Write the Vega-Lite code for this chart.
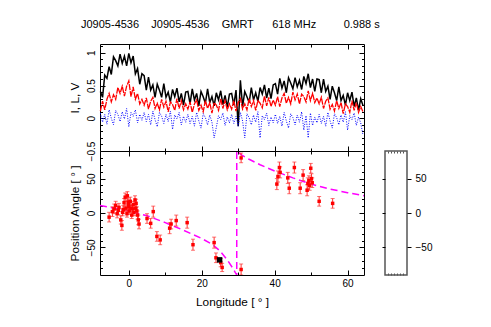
{
  "$schema": "https://vega.github.io/schema/vega-lite/v6.json",
  "padding": {"left": 68, "top": 18, "right": 5, "bottom": 5},
  "background": "white",
  "config": {
    "font": "Liberation Sans",
    "view": {"stroke": "black", "strokeWidth": 1},
    "axis": {"grid": false, "domain": false, "labelFlush": false, "labelBound": false, "labelOverlap": false, "tickColor": "black", "tickWidth": 1, "labelColor": "black", "labelFontSize": 10, "titleColor": "black", "titleFontSize": 11.8, "titleFontWeight": "normal", "labelFont": "Liberation Sans", "titleFont": "Liberation Sans"}
  },
  "datasets": {
    "prof": [
      {"x": -7.8, "I": 0.41, "L": 0.11, "V": 0.08},
      {"x": -7.2, "I": 0.32, "L": 0.26, "V": -0.06},
      {"x": -6.6, "I": 0.66, "L": 0.13, "V": 0.06},
      {"x": -6.0, "I": 0.61, "L": 0.29, "V": -0.09},
      {"x": -5.4, "I": 0.79, "L": 0.38, "V": 0.13},
      {"x": -4.8, "I": 0.67, "L": 0.25, "V": 0.0},
      {"x": -4.2, "I": 0.94, "L": 0.36, "V": -0.10},
      {"x": -3.6, "I": 0.88, "L": 0.29, "V": 0.12},
      {"x": -3.0, "I": 0.80, "L": 0.47, "V": 0.06},
      {"x": -2.4, "I": 0.98, "L": 0.38, "V": -0.05},
      {"x": -1.8, "I": 0.84, "L": 0.49, "V": 0.10},
      {"x": -1.2, "I": 0.95, "L": 0.34, "V": -0.01},
      {"x": -0.6, "I": 0.80, "L": 0.49, "V": 0.15},
      {"x": 0.0, "I": 0.99, "L": 0.57, "V": -0.13},
      {"x": 0.6, "I": 0.85, "L": 0.33, "V": 0.09},
      {"x": 1.2, "I": 0.95, "L": 0.48, "V": 0.03},
      {"x": 1.8, "I": 0.68, "L": 0.29, "V": 0.13},
      {"x": 2.4, "I": 0.76, "L": 0.38, "V": -0.07},
      {"x": 3.0, "I": 0.52, "L": 0.22, "V": 0.06},
      {"x": 3.6, "I": 0.68, "L": 0.29, "V": -0.03},
      {"x": 4.2, "I": 0.65, "L": 0.20, "V": 0.09},
      {"x": 4.8, "I": 0.43, "L": 0.31, "V": -0.05},
      {"x": 5.4, "I": 0.63, "L": 0.14, "V": 0.06},
      {"x": 6.0, "I": 0.43, "L": 0.26, "V": -0.10},
      {"x": 6.6, "I": 0.51, "L": 0.32, "V": 0.11},
      {"x": 7.2, "I": 0.32, "L": 0.15, "V": -0.02},
      {"x": 7.8, "I": 0.52, "L": 0.23, "V": -0.13},
      {"x": 8.4, "I": 0.43, "L": 0.13, "V": 0.09},
      {"x": 9.0, "I": 0.32, "L": 0.29, "V": 0.03},
      {"x": 9.6, "I": 0.53, "L": 0.17, "V": -0.08},
      {"x": 10.2, "I": 0.32, "L": 0.26, "V": 0.06},
      {"x": 10.8, "I": 0.40, "L": 0.10, "V": -0.05},
      {"x": 11.4, "I": 0.25, "L": 0.25, "V": 0.11},
      {"x": 12.0, "I": 0.44, "L": 0.21, "V": -0.17},
      {"x": 12.6, "I": 0.33, "L": 0.12, "V": 0.05},
      {"x": 13.2, "I": 0.46, "L": 0.30, "V": -0.01},
      {"x": 13.8, "I": 0.25, "L": 0.15, "V": 0.09},
      {"x": 14.4, "I": 0.38, "L": 0.27, "V": -0.10},
      {"x": 15.0, "I": 0.20, "L": 0.13, "V": 0.03},
      {"x": 15.6, "I": 0.40, "L": 0.22, "V": -0.06},
      {"x": 16.2, "I": 0.41, "L": 0.14, "V": 0.06},
      {"x": 16.8, "I": 0.22, "L": 0.25, "V": -0.08},
      {"x": 17.4, "I": 0.45, "L": 0.09, "V": 0.03},
      {"x": 18.0, "I": 0.28, "L": 0.22, "V": -0.12},
      {"x": 18.6, "I": 0.38, "L": 0.28, "V": 0.09},
      {"x": 19.2, "I": 0.19, "L": 0.12, "V": -0.04},
      {"x": 19.8, "I": 0.41, "L": 0.20, "V": -0.15},
      {"x": 20.4, "I": 0.33, "L": 0.10, "V": 0.07},
      {"x": 21.0, "I": 0.23, "L": 0.27, "V": 0.01},
      {"x": 21.6, "I": 0.45, "L": 0.15, "V": -0.10},
      {"x": 22.2, "I": 0.24, "L": 0.24, "V": 0.05},
      {"x": 22.8, "I": 0.33, "L": 0.08, "V": -0.06},
      {"x": 23.4, "I": 0.19, "L": 0.24, "V": -0.30},
      {"x": 24.0, "I": 0.39, "L": 0.20, "V": -0.14},
      {"x": 24.6, "I": 0.28, "L": 0.12, "V": 0.04},
      {"x": 25.2, "I": 0.42, "L": 0.30, "V": -0.02},
      {"x": 25.8, "I": 0.21, "L": 0.15, "V": 0.08},
      {"x": 26.4, "I": 0.35, "L": 0.27, "V": -0.11},
      {"x": 27.0, "I": 0.17, "L": 0.13, "V": 0.02},
      {"x": 27.6, "I": 0.37, "L": 0.22, "V": -0.07},
      {"x": 28.2, "I": 0.38, "L": 0.14, "V": 0.06},
      {"x": 28.8, "I": 0.20, "L": 0.27, "V": -0.08},
      {"x": 29.4, "I": 0.43, "L": 0.11, "V": 0.03},
      {"x": 30.0, "I": -0.12, "L": 0.24, "V": -0.12},
      {"x": 30.6, "I": 0.58, "L": 0.30, "V": 0.09},
      {"x": 31.2, "I": 0.18, "L": 0.14, "V": -0.04},
      {"x": 31.8, "I": 0.41, "L": 0.22, "V": -0.30},
      {"x": 32.4, "I": 0.33, "L": 0.13, "V": 0.07},
      {"x": 33.0, "I": 0.24, "L": 0.30, "V": 0.01},
      {"x": 33.6, "I": 0.47, "L": 0.18, "V": -0.10},
      {"x": 34.2, "I": 0.28, "L": 0.27, "V": 0.05},
      {"x": 34.8, "I": 0.39, "L": 0.12, "V": -0.06},
      {"x": 35.4, "I": 0.26, "L": 0.27, "V": 0.10},
      {"x": 36.0, "I": 0.47, "L": 0.23, "V": -0.30},
      {"x": 36.6, "I": 0.37, "L": 0.16, "V": 0.04},
      {"x": 37.2, "I": 0.51, "L": 0.34, "V": -0.02},
      {"x": 37.8, "I": 0.31, "L": 0.19, "V": 0.08},
      {"x": 38.4, "I": 0.46, "L": 0.32, "V": -0.11},
      {"x": 39.0, "I": 0.30, "L": 0.18, "V": 0.02},
      {"x": 39.6, "I": 0.51, "L": 0.28, "V": -0.07},
      {"x": 40.2, "I": 0.53, "L": 0.20, "V": 0.06},
      {"x": 40.8, "I": 0.37, "L": 0.33, "V": -0.08},
      {"x": 41.4, "I": 0.61, "L": 0.18, "V": 0.03},
      {"x": 42.0, "I": 0.46, "L": 0.31, "V": -0.12},
      {"x": 42.6, "I": 0.57, "L": 0.38, "V": 0.09},
      {"x": 43.2, "I": 0.39, "L": 0.23, "V": -0.04},
      {"x": 43.8, "I": 0.62, "L": 0.32, "V": -0.15},
      {"x": 44.4, "I": 0.54, "L": 0.22, "V": 0.07},
      {"x": 45.0, "I": 0.45, "L": 0.40, "V": 0.01},
      {"x": 45.6, "I": 0.62, "L": 0.28, "V": -0.10},
      {"x": 46.2, "I": 0.48, "L": 0.37, "V": 0.05},
      {"x": 46.8, "I": 0.58, "L": 0.22, "V": -0.06},
      {"x": 47.4, "I": 0.44, "L": 0.37, "V": 0.10},
      {"x": 48.0, "I": 0.64, "L": 0.33, "V": -0.18},
      {"x": 48.6, "I": 0.53, "L": 0.25, "V": 0.04},
      {"x": 49.2, "I": 0.68, "L": 0.42, "V": -0.30},
      {"x": 49.8, "I": 0.47, "L": 0.27, "V": 0.08},
      {"x": 50.4, "I": 0.60, "L": 0.38, "V": -0.11},
      {"x": 51.0, "I": 0.41, "L": 0.24, "V": 0.02},
      {"x": 51.6, "I": 0.60, "L": 0.31, "V": -0.07},
      {"x": 52.2, "I": 0.59, "L": 0.22, "V": 0.06},
      {"x": 52.8, "I": 0.39, "L": 0.32, "V": -0.08},
      {"x": 53.4, "I": 0.60, "L": 0.15, "V": 0.03},
      {"x": 54.0, "I": 0.41, "L": 0.26, "V": -0.12},
      {"x": 54.6, "I": 0.49, "L": 0.31, "V": 0.09},
      {"x": 55.2, "I": 0.29, "L": 0.14, "V": -0.04},
      {"x": 55.8, "I": 0.49, "L": 0.21, "V": -0.15},
      {"x": 56.4, "I": 0.39, "L": 0.11, "V": 0.07},
      {"x": 57.0, "I": 0.27, "L": 0.27, "V": 0.01},
      {"x": 57.6, "I": 0.48, "L": 0.15, "V": -0.10},
      {"x": 58.2, "I": 0.27, "L": 0.24, "V": 0.05},
      {"x": 58.8, "I": 0.35, "L": 0.07, "V": -0.06},
      {"x": 59.4, "I": 0.20, "L": 0.22, "V": 0.10},
      {"x": 60.0, "I": 0.39, "L": 0.18, "V": -0.18},
      {"x": 60.6, "I": 0.27, "L": 0.09, "V": 0.04},
      {"x": 61.2, "I": 0.40, "L": 0.27, "V": -0.02},
      {"x": 61.8, "I": 0.18, "L": 0.12, "V": 0.08},
      {"x": 62.4, "I": 0.31, "L": 0.24, "V": -0.11},
      {"x": 63.0, "I": 0.12, "L": 0.09, "V": 0.02},
      {"x": 63.6, "I": 0.30, "L": 0.18, "V": -0.07},
      {"x": 64.2, "I": 0.20, "L": 0.10, "V": -0.25}
    ],
    "pa": [
      {"lon": -5.4, "pa": -6, "lo": -13, "hi": 1},
      {"lon": -4.5, "pa": 2, "lo": -5, "hi": 9},
      {"lon": -4.0, "pa": 6, "lo": -1, "hi": 13},
      {"lon": -3.6, "pa": 11, "lo": 5, "hi": 17},
      {"lon": -3.2, "pa": -1, "lo": -7, "hi": 5},
      {"lon": -2.9, "pa": 4, "lo": -2, "hi": 10},
      {"lon": -2.7, "pa": 8, "lo": 2, "hi": 14},
      {"lon": -2.2, "pa": -10, "lo": -16, "hi": -4},
      {"lon": -1.9, "pa": -18, "lo": -25, "hi": -11},
      {"lon": -1.7, "pa": 1, "lo": -4, "hi": 6},
      {"lon": -1.5, "pa": 5, "lo": -1, "hi": 11},
      {"lon": -1.3, "pa": 15, "lo": 9, "hi": 21},
      {"lon": -1.0, "pa": 23, "lo": 17, "hi": 29},
      {"lon": -0.8, "pa": 7, "lo": 2, "hi": 12},
      {"lon": -0.5, "pa": -1, "lo": -6, "hi": 4},
      {"lon": -0.4, "pa": 25, "lo": 19, "hi": 31},
      {"lon": -0.2, "pa": 16, "lo": 10, "hi": 22},
      {"lon": -0.1, "pa": 12, "lo": 7, "hi": 17},
      {"lon": 0.0, "pa": 9, "lo": 4, "hi": 14},
      {"lon": 0.1, "pa": 3, "lo": -2, "hi": 8},
      {"lon": 0.4, "pa": 17, "lo": 11, "hi": 23},
      {"lon": 0.6, "pa": 7, "lo": 2, "hi": 12},
      {"lon": 0.8, "pa": -3, "lo": -8, "hi": 2},
      {"lon": 1.0, "pa": 6, "lo": 1, "hi": 11},
      {"lon": 1.2, "pa": 12, "lo": 7, "hi": 17},
      {"lon": 1.4, "pa": 1, "lo": -4, "hi": 6},
      {"lon": 1.7, "pa": 19, "lo": 13, "hi": 25},
      {"lon": 1.9, "pa": 7, "lo": 2, "hi": 12},
      {"lon": 2.0, "pa": 14, "lo": 8, "hi": 20},
      {"lon": 2.2, "pa": 3, "lo": -3, "hi": 9},
      {"lon": 2.4, "pa": -3, "lo": -9, "hi": 3},
      {"lon": 2.6, "pa": -10, "lo": -17, "hi": -3},
      {"lon": 2.8, "pa": -16, "lo": -23, "hi": -9},
      {"lon": 5.0, "pa": -8, "lo": -15, "hi": -1},
      {"lon": 6.0, "pa": -15, "lo": -22, "hi": -8},
      {"lon": 6.7, "pa": 2, "lo": -6, "hi": 10},
      {"lon": 7.7, "pa": -34, "lo": -41, "hi": -27},
      {"lon": 8.6, "pa": -39, "lo": -46, "hi": -32},
      {"lon": 11.2, "pa": -22, "lo": -30, "hi": -14},
      {"lon": 11.6, "pa": -16, "lo": -23, "hi": -9},
      {"lon": 13.0, "pa": -11, "lo": -19, "hi": -3},
      {"lon": 16.0, "pa": -14, "lo": -22, "hi": -6},
      {"lon": 17.6, "pa": -46, "lo": -54, "hi": -38},
      {"lon": 23.4, "pa": -43, "lo": -51, "hi": -35},
      {"lon": 23.9, "pa": -65, "lo": -72, "hi": -58},
      {"lon": 25.2, "pa": -72, "lo": -78, "hi": -66},
      {"lon": 25.6, "pa": -79, "lo": -85, "hi": -73},
      {"lon": 30.8, "pa": 80, "lo": 73, "hi": 87},
      {"lon": 30.8, "pa": -82, "lo": -90, "hi": -74},
      {"lon": 40.6, "pa": 42, "lo": 34, "hi": 50},
      {"lon": 40.9, "pa": 53, "lo": 45, "hi": 61},
      {"lon": 41.3, "pa": 66, "lo": 58, "hi": 74},
      {"lon": 41.5, "pa": 59, "lo": 51, "hi": 67},
      {"lon": 43.6, "pa": 51, "lo": 43, "hi": 59},
      {"lon": 44.0, "pa": 36, "lo": 28, "hi": 44},
      {"lon": 45.4, "pa": 66, "lo": 58, "hi": 74},
      {"lon": 47.0, "pa": 36, "lo": 28, "hi": 44},
      {"lon": 47.8, "pa": 55, "lo": 47, "hi": 63},
      {"lon": 48.9, "pa": 33, "lo": 25, "hi": 41},
      {"lon": 49.1, "pa": 43, "lo": 35, "hi": 51},
      {"lon": 49.4, "pa": 47, "lo": 40, "hi": 54},
      {"lon": 49.6, "pa": 40, "lo": 33, "hi": 47},
      {"lon": 49.9, "pa": 65, "lo": 58, "hi": 72},
      {"lon": 50.1, "pa": 50, "lo": 43, "hi": 57},
      {"lon": 50.3, "pa": 44, "lo": 37, "hi": 51},
      {"lon": 52.2, "pa": 17, "lo": 10, "hi": 24},
      {"lon": 55.9, "pa": 14, "lo": 7, "hi": 21}
    ],
    "bk": [{"lon": 24.9, "pa": -68}],
    "rvm": [
      {"o": 0, "lon": -7.9, "pa": 11},
      {"o": 1, "lon": -4, "pa": 7},
      {"o": 2, "lon": 0, "pa": 3},
      {"o": 3, "lon": 5, "pa": -4},
      {"o": 4, "lon": 10, "pa": -14},
      {"o": 5, "lon": 15, "pa": -25},
      {"o": 6, "lon": 20, "pa": -37},
      {"o": 7, "lon": 23, "pa": -46},
      {"o": 8, "lon": 25, "pa": -55},
      {"o": 9, "lon": 27, "pa": -68},
      {"o": 10, "lon": 28.5, "pa": -80},
      {"o": 11, "lon": 29.6, "pa": -90},
      {"o": 12, "lon": 29.6, "pa": 90},
      {"o": 13, "lon": 31, "pa": 84},
      {"o": 14, "lon": 33, "pa": 78},
      {"o": 15, "lon": 36, "pa": 70},
      {"o": 16, "lon": 40, "pa": 61},
      {"o": 17, "lon": 45, "pa": 51},
      {"o": 18, "lon": 50, "pa": 42},
      {"o": 19, "lon": 55, "pa": 35},
      {"o": 20, "lon": 60, "pa": 29.5},
      {"o": 21, "lon": 64.5, "pa": 25}
    ],
    "box": [{"q": 0, "p": -90}, {"q": 1, "p": 90}]
  },
  "spacing": 0.01,
  "bounds": "flush",
  "vconcat": [
    {
      "width": 264,
      "height": 107,
      "title": {"text": "J0905-4536\u00a0\u00a0\u00a0\u00a0J0905-4536\u00a0\u00a0\u00a0\u00a0GMRT\u00a0\u00a0\u00a0\u00a0\u00a0\u00a0618\u00a0MHz\u00a0\u00a0\u00a0\u00a0\u00a0\u00a0\u00a0\u00a0\u00a00.988\u00a0s", "anchor": "start", "frame": "group", "dx": -19, "offset": 5, "baseline": "alphabetic", "fontSize": 11, "fontWeight": "normal", "color": "black", "font": "Liberation Sans"},
      "data": {"name": "prof"},
      "layer": [
        {
          "mark": {"type": "line", "color": "black", "strokeWidth": 1.5},
          "encoding": {
            "x": {"field": "x", "type": "quantitative", "scale": {"domain": [-7.9, 64.5], "nice": false, "zero": false},
              "axis": {"orient": "bottom", "values": [0, 10, 20, 30, 40, 50, 60], "labels": false, "title": null, "tickSize": {"condition": {"test": "datum.value % 20 === 0", "value": -5}, "value": -3}}},
            "y": {"field": "I", "type": "quantitative", "scale": {"domain": [-0.5, 1.135], "nice": false, "zero": false},
              "axis": {"orient": "left", "values": [-0.5, 0, 0.5, 1], "format": "~g", "ticks": false, "tickSize": 0, "labelAngle": -90, "labelAlign": "center", "labelBaseline": "alphabetic", "labelPadding": 5.5, "title": "I, L, V", "titleAngle": 270, "titleX": -21.5, "titleY": 53.5, "titleAlign": "center", "titleBaseline": "alphabetic"}}
          }
        },
        {
          "mark": {"type": "line", "color": "#ff0000", "strokeWidth": 1.3, "strokeDash": [6, 1]},
          "encoding": {
            "x": {"field": "x", "type": "quantitative", "scale": {"domain": [-7.9, 64.5], "nice": false, "zero": false},
              "axis": {"orient": "top", "values": [0, 10, 20, 30, 40, 50, 60], "labels": false, "title": null, "tickSize": {"condition": {"test": "datum.value % 20 === 0", "value": -5}, "value": -3}}},
            "y": {"field": "L", "type": "quantitative", "scale": {"domain": [-0.5, 1.135], "nice": false, "zero": false},
              "axis": {"orient": "right", "values": [-0.4, -0.3, -0.2, -0.1, 0, 0.1, 0.2, 0.3, 0.4, 0.5, 0.6, 0.7, 0.8, 0.9, 1, 1.1], "labels": false, "title": null, "tickSize": {"condition": {"test": "datum.value === 0 || datum.value === 0.5 || datum.value === 1", "value": -5}, "value": -2.5}}}
          }
        },
        {
          "mark": {"type": "line", "color": "#0000ff", "strokeWidth": 1, "strokeDash": [1, 1.5]},
          "encoding": {
            "x": {"field": "x", "type": "quantitative", "scale": {"domain": [-7.9, 64.5], "nice": false, "zero": false}, "axis": null},
            "y": {"field": "V", "type": "quantitative", "scale": {"domain": [-0.5, 1.135], "nice": false, "zero": false},
              "axis": {"orient": "left", "values": [-0.4, -0.3, -0.2, -0.1, 0, 0.1, 0.2, 0.3, 0.4, 0.5, 0.6, 0.7, 0.8, 0.9, 1, 1.1], "labels": false, "title": null, "tickSize": {"condition": {"test": "datum.value === 0 || datum.value === 0.5 || datum.value === 1", "value": -5}, "value": -2.5}}}
          }
        }
      ],
      "resolve": {"axis": {"x": "independent", "y": "independent"}}
    },
    {
      "spacing": 21,
      "bounds": "flush",
      "hconcat": [
        {
          "width": 264,
          "height": 124,
          "layer": [
            {
              "data": {"name": "rvm"},
              "mark": {"type": "line", "color": "#ff00ff", "strokeWidth": 1.5, "strokeDash": [7, 4], "clip": true},
              "encoding": {
                "x": {"field": "lon", "type": "quantitative", "scale": {"domain": [-7.9, 64.5], "nice": false, "zero": false}, "axis": null},
                "y": {"field": "pa", "type": "quantitative", "scale": {"domain": [-90, 90], "nice": false, "zero": false}, "axis": null},
                "order": {"field": "o", "type": "quantitative"}
              }
            },
            {
              "data": {"name": "pa"},
              "mark": {"type": "rule", "color": "#ff3333", "strokeWidth": 1, "clip": true},
              "encoding": {
                "x": {"field": "lon", "type": "quantitative", "scale": {"domain": [-7.9, 64.5], "nice": false, "zero": false},
                  "axis": {"orient": "bottom", "values": [0, 20, 40, 60], "ticks": false, "tickSize": 0, "labelPadding": 3, "labelBaseline": "top", "labelAlign": "center", "title": "Longitude [ \u00b0 ]", "titleX": 132, "titleY": 30.5, "titleAlign": "center", "titleBaseline": "alphabetic"}},
                "y": {"field": "lo", "type": "quantitative", "scale": {"domain": [-90, 90], "nice": false, "zero": false},
                  "axis": {"orient": "left", "values": [-50, 0, 50], "ticks": false, "tickSize": 0, "labelAngle": -90, "labelAlign": "center", "labelBaseline": "alphabetic", "labelPadding": 5.5, "title": "Position Angle [ \u00b0 ]", "titleAngle": 270, "titleX": -21.5, "titleY": 62, "titleAlign": "center", "titleBaseline": "alphabetic"}},
                "y2": {"field": "hi"}
              }
            },
            {
              "data": {"name": "pa"},
              "mark": {"type": "tick", "orient": "horizontal", "color": "#ff3333", "size": 4, "thickness": 1, "clip": true},
              "encoding": {
                "x": {"field": "lon", "type": "quantitative", "scale": {"domain": [-7.9, 64.5], "nice": false, "zero": false},
                  "axis": {"orient": "bottom", "values": [0, 10, 20, 30, 40, 50, 60], "labels": false, "title": null, "tickSize": {"condition": {"test": "datum.value % 20 === 0", "value": -5}, "value": -3}}},
                "y": {"field": "lo", "type": "quantitative", "scale": {"domain": [-90, 90], "nice": false, "zero": false},
                  "axis": {"orient": "left", "values": [-80, -70, -60, -50, -40, -30, -20, -10, 0, 10, 20, 30, 40, 50, 60, 70, 80], "labels": false, "title": null, "tickSize": {"condition": {"test": "datum.value % 50 === 0", "value": -5}, "value": -2.5}}}
              }
            },
            {
              "data": {"name": "pa"},
              "mark": {"type": "tick", "orient": "horizontal", "color": "#ff3333", "size": 4, "thickness": 1, "clip": true},
              "encoding": {
                "x": {"field": "lon", "type": "quantitative", "scale": {"domain": [-7.9, 64.5], "nice": false, "zero": false},
                  "axis": {"orient": "top", "values": [0, 10, 20, 30, 40, 50, 60], "labels": false, "title": null, "tickSize": {"condition": {"test": "datum.value % 20 === 0", "value": -5}, "value": -3}}},
                "y": {"field": "hi", "type": "quantitative", "scale": {"domain": [-90, 90], "nice": false, "zero": false},
                  "axis": {"orient": "right", "values": [-80, -70, -60, -50, -40, -30, -20, -10, 0, 10, 20, 30, 40, 50, 60, 70, 80], "labels": false, "title": null, "tickSize": {"condition": {"test": "datum.value % 50 === 0", "value": -5}, "value": -2.5}}}
              }
            },
            {
              "data": {"name": "pa"},
              "mark": {"type": "square", "color": "#ff0000", "size": 12, "opacity": 1, "clip": true},
              "encoding": {
                "x": {"field": "lon", "type": "quantitative", "axis": null},
                "y": {"field": "pa", "type": "quantitative", "axis": null}
              }
            },
            {
              "data": {"name": "bk"},
              "mark": {"type": "square", "color": "black", "size": 30, "opacity": 1},
              "encoding": {
                "x": {"field": "lon", "type": "quantitative", "axis": null},
                "y": {"field": "pa", "type": "quantitative", "axis": null}
              }
            }
          ],
          "resolve": {"axis": {"x": "independent", "y": "independent"}}
        },
        {
          "width": 22,
          "height": 124,
          "view": {"stroke": "#555555", "strokeWidth": 1.5},
          "data": {"name": "box"},
          "layer": [
            {
              "mark": {"type": "point", "opacity": 0},
              "encoding": {
                "x": {"field": "q", "type": "quantitative", "scale": {"domain": [0, 1], "nice": false},
                  "axis": {"orient": "top", "values": [0.14, 0.28, 0.42, 0.56, 0.7, 0.84], "labels": false, "title": null, "tickSize": -2, "tickColor": "#555555"}},
                "y": {"field": "p", "type": "quantitative", "scale": {"domain": [-90, 90], "nice": false, "zero": false},
                  "axis": {"orient": "right", "values": [-50, 0, 50], "tickSize": 4, "labelPadding": 4, "labelAngle": 0, "labelAlign": "left", "labelBaseline": "middle", "title": null}}
              }
            },
            {
              "mark": {"type": "point", "opacity": 0},
              "encoding": {
                "x": {"field": "q", "type": "quantitative", "scale": {"domain": [0, 1], "nice": false},
                  "axis": {"orient": "bottom", "values": [0.14, 0.28, 0.42, 0.56, 0.7, 0.84], "labels": false, "title": null, "tickSize": -2, "tickColor": "#555555"}},
                "y": {"field": "p", "type": "quantitative", "scale": {"domain": [-90, 90], "nice": false, "zero": false},
                  "axis": {"orient": "left", "values": [-50, 0, 50], "labels": false, "tickSize": 3, "title": null}}
              }
            }
          ],
          "resolve": {"axis": {"x": "independent", "y": "independent"}}
        }
      ]
    }
  ]
}
